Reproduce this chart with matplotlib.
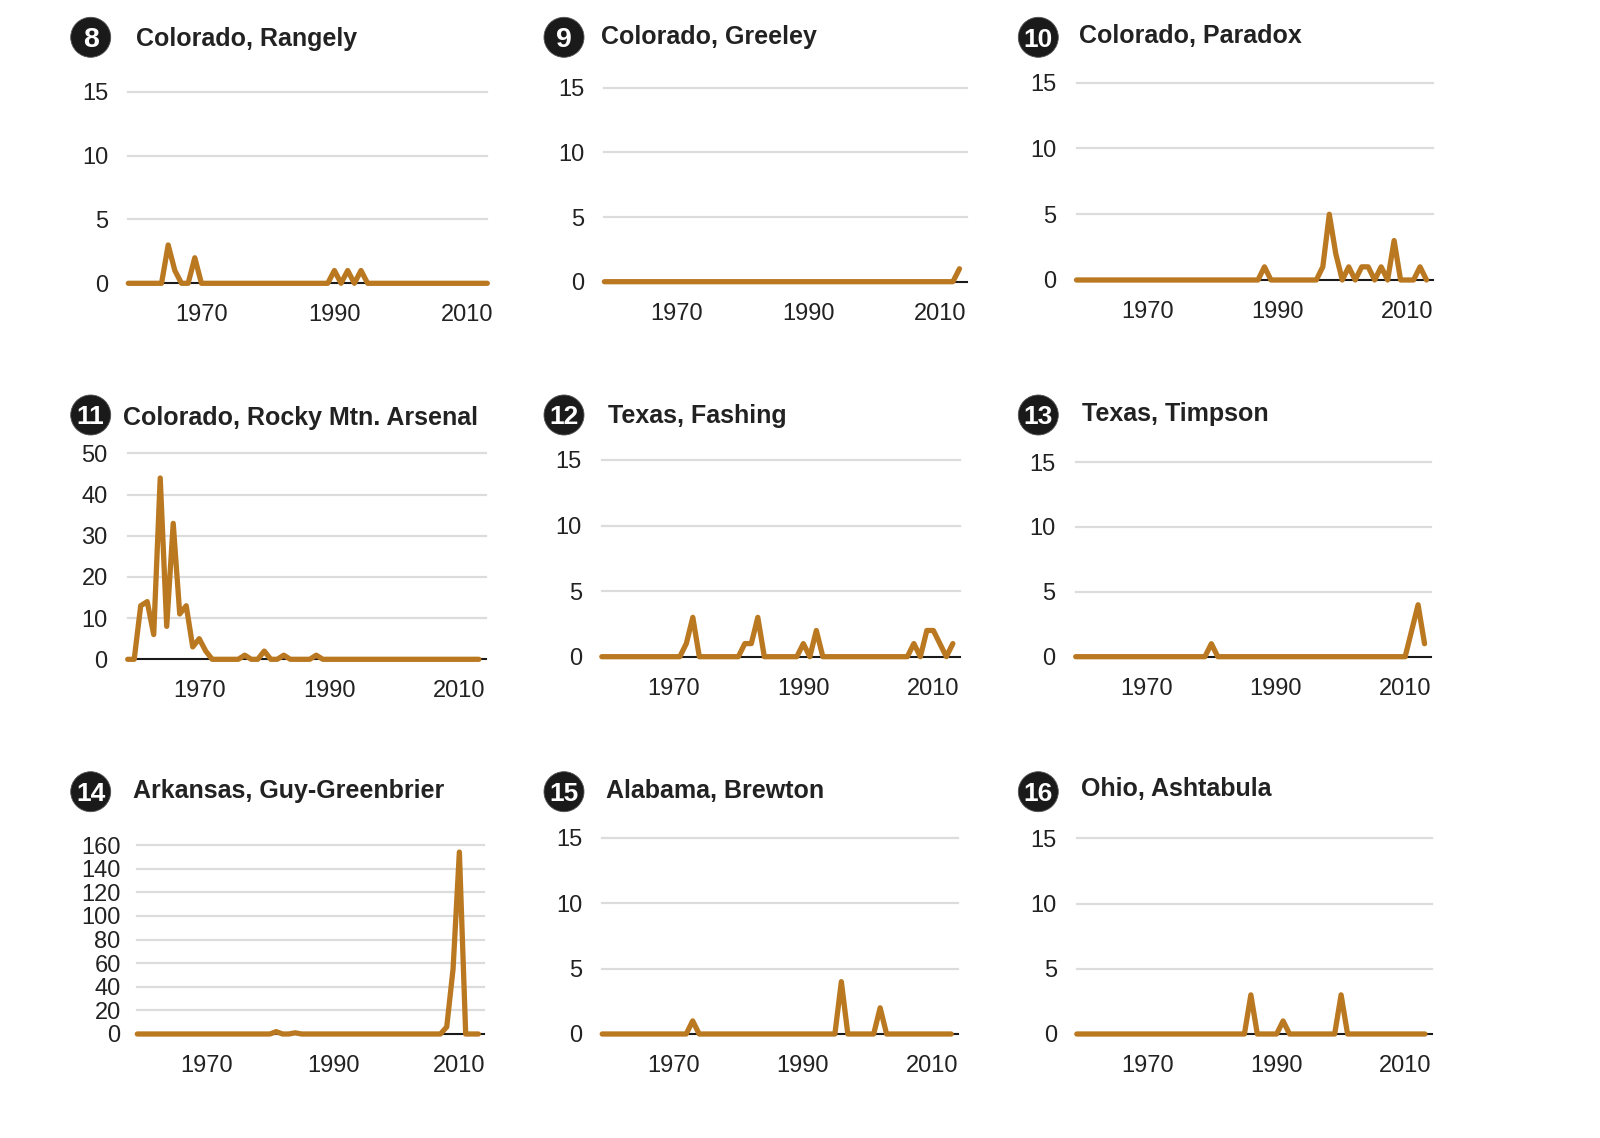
import matplotlib
matplotlib.use("Agg")
import matplotlib.pyplot as plt
from matplotlib.patches import Circle

# ---------------- data ----------------
years = list(range(1959, 2014))

titles = ["Colorado, Rangely", "Colorado, Greeley", "Colorado, Paradox",
          "Colorado, Rocky Mtn. Arsenal", "Texas, Fashing", "Texas, Timpson",
          "Arkansas, Guy-Greenbrier", "Alabama, Brewton", "Ohio, Ashtabula"]
numbers = ["8", "9", "10", "11", "12", "13", "14", "15", "16"]
xtick_years = [1970, 1990, 2010]
xtick_labels = ["1970", "1990", "2010"]
yticks_15 = [0, 5, 10, 15]
yticks_50 = [0, 10, 20, 30, 40, 50]
yticks_160 = [0, 20, 40, 60, 80, 100, 120, 140, 160]

#            1959 | 1960s                          | 1970s                        | 1980s                        | 1990s                        | 2000s                         | 2010-13
rangely   = [0,  0, 0, 0, 0, 0, 3, 1, 0, 0, 2,     0, 0, 0, 0, 0, 0, 0, 0, 0, 0,   0, 0, 0, 0, 0, 0, 0, 0, 0, 0,   1, 0, 1, 0, 1, 0, 0, 0, 0, 0,   0, 0, 0, 0, 0, 0, 0, 0, 0, 0,    0, 0, 0, 0]
greeley   = [0,  0, 0, 0, 0, 0, 0, 0, 0, 0, 0,     0, 0, 0, 0, 0, 0, 0, 0, 0, 0,   0, 0, 0, 0, 0, 0, 0, 0, 0, 0,   0, 0, 0, 0, 0, 0, 0, 0, 0, 0,   0, 0, 0, 0, 0, 0, 0, 0, 0, 0,    0, 0, 0, 1]
paradox   = [0,  0, 0, 0, 0, 0, 0, 0, 0, 0, 0,     0, 0, 0, 0, 0, 0, 0, 0, 0, 0,   0, 0, 0, 0, 0, 0, 0, 0, 1, 0,   0, 0, 0, 0, 0, 0, 0, 1, 5, 2,   0, 1, 0, 1, 1, 0, 1, 0, 3, 0,    0, 0, 1, 0]
rocky     = [0,  0, 13, 14, 6, 44, 8, 33, 11, 13, 3, 5, 2, 0, 0, 0, 0, 0, 1, 0, 0,   2, 0, 0, 1, 0, 0, 0, 0, 1, 0,   0, 0, 0, 0, 0, 0, 0, 0, 0, 0,   0, 0, 0, 0, 0, 0, 0, 0, 0, 0,    0, 0, 0, 0]
fashing   = [0,  0, 0, 0, 0, 0, 0, 0, 0, 0, 0,     0, 0, 1, 3, 0, 0, 0, 0, 0, 0,   0, 1, 1, 3, 0, 0, 0, 0, 0, 0,   1, 0, 2, 0, 0, 0, 0, 0, 0, 0,   0, 0, 0, 0, 0, 0, 0, 1, 0, 2,    2, 1, 0, 1]
timpson   = [0,  0, 0, 0, 0, 0, 0, 0, 0, 0, 0,     0, 0, 0, 0, 0, 0, 0, 0, 0, 0,   1, 0, 0, 0, 0, 0, 0, 0, 0, 0,   0, 0, 0, 0, 0, 0, 0, 0, 0, 0,   0, 0, 0, 0, 0, 0, 0, 0, 0, 0,    0, 2, 4, 1]
guy       = [0,  0, 0, 0, 0, 0, 0, 0, 0, 0, 0,     0, 0, 0, 0, 0, 0, 0, 0, 0, 0,   0, 2, 0, 0, 1, 0, 0, 0, 0, 0,   0, 0, 0, 0, 0, 0, 0, 0, 0, 0,   0, 0, 0, 0, 0, 0, 0, 0, 6, 55,   154, 0, 0, 0]
brewton   = [0,  0, 0, 0, 0, 0, 0, 0, 0, 0, 0,     0, 0, 0, 1, 0, 0, 0, 0, 0, 0,   0, 0, 0, 0, 0, 0, 0, 0, 0, 0,   0, 0, 0, 0, 0, 0, 4, 0, 0, 0,   0, 0, 2, 0, 0, 0, 0, 0, 0, 0,    0, 0, 0, 0]
ashtabula = [0,  0, 0, 0, 0, 0, 0, 0, 0, 0, 0,     0, 0, 0, 0, 0, 0, 0, 0, 0, 0,   0, 0, 0, 0, 0, 0, 3, 0, 0, 0,   0, 1, 0, 0, 0, 0, 0, 0, 0, 0,   3, 0, 0, 0, 0, 0, 0, 0, 0, 0,    0, 0, 0, 0]

series = [rangely, greeley, paradox, rocky, fashing, timpson, guy, brewton, ashtabula]
yticks_list = [yticks_15, yticks_15, yticks_15, yticks_50, yticks_15, yticks_15,
               yticks_160, yticks_15, yticks_15]

# ---------------- layout (pixels) ----------------
W, H = 1600, 1138
# left, right, xmax(year at right edge), y of zero line, y of top gridline
axes_px = [
    (128.3, 487.3, 2013.0, 283.3, 91.7),
    (604.4, 966.7, 2014.1, 281.7, 87.7),
    (1076.5, 1433.0, 2014.0, 280.0, 82.7),
    (127.7, 486.0, 2014.1, 659.3, 453.3),
    (601.8, 960.0, 2014.1, 656.7, 460.0),
    (1075.7, 1431.0, 2014.0, 656.7, 462.0),
    (137.3, 484.0, 2013.9, 1034.0, 845.0),
    (602.2, 957.7, 2014.0, 1034.0, 837.7),
    (1076.8, 1432.0, 2014.1, 1034.0, 838.3),
]
circle_px = [(90.7, 37.3), (564, 37.3), (1038.3, 37.3),
             (90.7, 415), (564, 415), (1038.3, 415),
             (90.7, 791.7), (564, 791.7), (1038.3, 791.7)]
title_px = [(136, 46), (600.7, 44.3), (1079.3, 42.7),
            (122.7, 425), (608.3, 422.7), (1081.7, 421),
            (133.3, 797.7), (606, 797.7), (1081, 796)]
ytick_pad_pt = [14.4, 14.4, 14.4, 14.4, 14.4, 14.4, 12.0, 14.4, 14.4]

ORANGE = "#BA7821"
GRID = "#dcdcdc"
TEXT = "#222222"

plt.rcParams["font.family"] = ["Liberation Sans", "DejaVu Sans"]

fig = plt.figure(figsize=(W / 100, H / 100), dpi=100)
fig.patch.set_facecolor("white")

for i in range(9):
    left, right, xmax, y0, ytop = axes_px[i]
    ax = fig.add_axes([left / W, 1 - y0 / H, (right - left) / W, (y0 - ytop) / H])
    ticks = yticks_list[i]
    ax.set_xlim(1959, xmax)
    ax.set_ylim(0, ticks[-1])
    for s in ax.spines.values():
        s.set_visible(False)
    ax.set_facecolor("none")
    for t in ticks[1:]:
        ax.axhline(t, color=GRID, lw=1.6, zorder=1, clip_on=False)
    ax.axhline(0, color="#1a1a1a", lw=1.5, zorder=2, clip_on=False)
    ax.plot(years, series[i], color=ORANGE, lw=3.8, solid_joinstyle="round",
            solid_capstyle="round", zorder=3, clip_on=False)
    ax.set_xticks(xtick_years)
    ax.set_xticklabels(xtick_labels)
    ax.set_yticks(ticks)
    ax.set_yticklabels([str(t) for t in ticks])
    ax.tick_params(axis="x", length=0, pad=15, labelsize=17, labelcolor=TEXT)
    ax.tick_params(axis="y", length=0, pad=ytick_pad_pt[i], labelsize=17, labelcolor=TEXT)

    cx, cy = circle_px[i]
    fig.add_artist(Circle((cx / 100, (H - cy) / 100), 0.2, transform=fig.dpi_scale_trans,
                          facecolor="#1a1a1a", edgecolor="#555555", lw=0.6))
    nsize = 20.5 if len(numbers[i]) == 1 else 19
    em = nsize * 100 / 72
    fig.text(cx / W, 1 - (cy + 0.358 * em) / H, numbers[i], color="white",
             fontsize=nsize, fontweight="bold", ha="center", va="baseline")
    tx, ty = title_px[i]
    fig.text(tx / W, 1 - ty / H, titles[i], color=TEXT, fontsize=18,
             fontweight="bold", ha="left", va="baseline")

fig.savefig("out.png", dpi=100, facecolor="white")
